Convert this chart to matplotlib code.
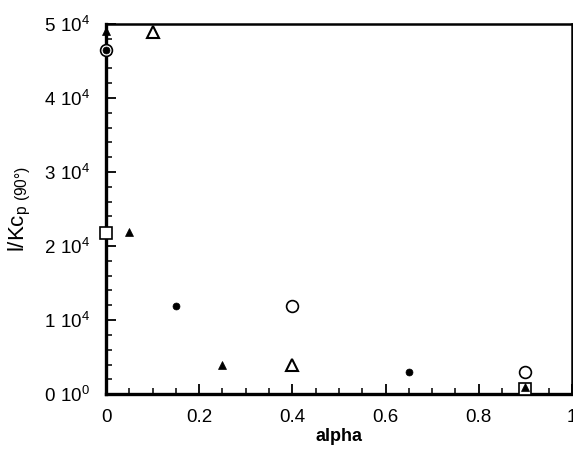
import matplotlib
matplotlib.use("Agg")
import matplotlib.pyplot as plt
from matplotlib.ticker import MultipleLocator, FixedLocator

# Series, grouped by marker style
filled_tri_x = [0.0, 0.05, 0.25, 0.9]
filled_tri_y = [49000, 21900, 3900, 900]
open_tri_x = [0.1, 0.4]
open_tri_y = [48900, 4000]
filled_dot_x = [0.0, 0.15, 0.65]
filled_dot_y = [46500, 11900, 3000]
open_circ_x = [0.0, 0.4, 0.9]
open_circ_y = [46500, 11900, 3000]
open_sq_x = [0.0, 0.9]
open_sq_y = [21800, 700]

x_ticks = [0, 0.2, 0.4, 0.6, 0.8, 1.0]
x_tick_labels = ["0", "0.2", "0.4", "0.6", "0.8", "1"]
y_ticks = [0, 10000, 20000, 30000, 40000, 50000]
y_tick_labels = [r"$\mathregular{0\ 10^{0}}$", r"$\mathregular{1\ 10^{4}}$",
                 r"$\mathregular{2\ 10^{4}}$", r"$\mathregular{3\ 10^{4}}$",
                 r"$\mathregular{4\ 10^{4}}$", r"$\mathregular{5\ 10^{4}}$"]

plt.rcParams['font.family'] = ['Liberation Sans', 'DejaVu Sans']

fig = plt.figure(figsize=(5.73, 4.53), dpi=100)
ax = fig.add_axes([0.185, 0.130, 0.813, 0.817])

common = dict(linestyle="none", clip_on=False, zorder=3)
ax.plot(open_circ_x, open_circ_y, marker="o", ms=8.5, mfc="white", mec="black", mew=1.2, **common)
ax.plot(open_sq_x, open_sq_y, marker="s", ms=8.5, mfc="white", mec="black", mew=1.2, **common)
ax.plot(open_tri_x, open_tri_y, marker="^", ms=8.5, mfc="white", mec="black", mew=1.5, **common)
ax.plot(filled_tri_x, filled_tri_y, marker="^", ms=5.5, mfc="black", mec="black", mew=0.5, **common)
ax.plot(filled_dot_x, filled_dot_y, marker="o", ms=5, mfc="black", mec="black", mew=0.5, **common)

ax.set_xlim(0, 1)
ax.set_ylim(0, 50000)
ax.xaxis.set_major_locator(FixedLocator(x_ticks))
ax.set_xticklabels(x_tick_labels)
ax.xaxis.set_minor_locator(MultipleLocator(0.05))
ax.yaxis.set_major_locator(FixedLocator(y_ticks))
ax.set_yticklabels(y_tick_labels)
ax.yaxis.set_minor_locator(MultipleLocator(2000))

ax.tick_params(which="both", direction="in", top=False, right=False, labelsize=13.5, colors="black")
ax.tick_params(which="major", length=7, width=1.3, pad=11)
ax.tick_params(which="minor", length=4, width=1.1)

for side in ["left", "bottom"]:
    ax.spines[side].set_linewidth(2.4)
for side in ["top", "right"]:
    ax.spines[side].set_linewidth(1.8)

ax.set_xlabel("alpha", fontsize=13, fontweight="bold", labelpad=1)
ax.set_ylabel(r"l/Kc$_{\mathregular{p\ (90°)}}$", fontsize=16, labelpad=8)

fig.savefig("out.png", dpi=100)
